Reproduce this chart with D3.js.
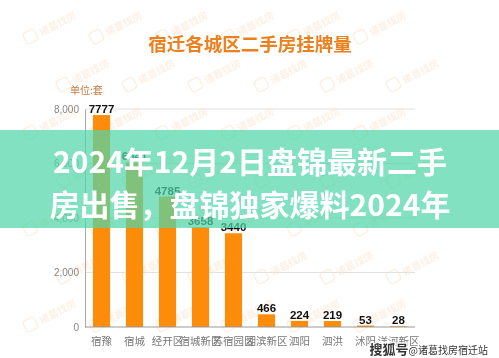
<!DOCTYPE html>
<html>
<head>
<meta charset="utf-8">
<script src="https://cdn.jsdelivr.net/npm/d3@7"></script>
<style>
  body { margin: 0; background: #fff; }
  svg { display: block; font-family: "Noto Sans CJK SC", "Noto Sans", sans-serif; }
</style>
</head>
<body>
<svg id="chart" width="499" height="358"></svg>
<script>
const districts = ["宿豫", "宿城", "经开区", "宿城新区", "苏宿园区", "湖滨新区", "泗阳", "泗洪", "沭阳", "洋河新区"]
const listings = [7777, 6041, 4785, 3658, 3440, 466, 224, 219, 53, 28]
const yTicks = [0, 2000, 4000, 6000, 8000]
const headline = ["2024年12月2日盘锦最新二手", "房出售，盘锦独家爆料2024年"]

const width = 499,
    height = 358
const orange = "rgb(252,140,10)"
const titleOrange = "rgb(236,128,30)"

const svg = d3.select("#chart")

// faint watermark pattern, kept inside the frame
const wm = svg.append("g").attr("opacity", 0.22)
for (let r = 0; r < 7; r++) {
    for (let c = 0; c < 6; c++) {
        const wx = c * 66 + (r % 2) * 33 + 45
        const wy = r * 48 + 30
        if (wx > 460) continue
        const g = wm.append("g").attr("transform", `translate(${wx},${wy}) rotate(-28)`)
        g.append("rect").attr("x", -22).attr("y", -7).attr("width", 12).attr("height", 12).attr("rx", 3)
            .attr("fill", "none").attr("stroke", "rgb(245,190,140)").attr("stroke-width", 1.5)
        g.append("text").attr("x", -6).attr("y", 4).attr("font-size", 10).attr("font-weight", "bold")
            .attr("fill", "rgb(245,190,140)").text("诸葛找房")
    }
}

const x = d3.scaleBand()
    .domain(districts)
    .range([85, 415])
    .paddingInner(0.48)
    .paddingOuter(0.24)

const y = d3.scaleLinear()
    .domain([0, 8000])
    .range([327, 109])

// title
svg.append("text")
    .attr("x", 250)
    .attr("y", 51)
    .attr("text-anchor", "middle")
    .attr("font-size", 18.5)
    .attr("font-weight", "bold")
    .attr("fill", titleOrange)
    .text("宿迁各城区二手房挂牌量")

svg.append("text")
    .attr("x", 70)
    .attr("y", 94)
    .attr("font-size", 10)
    .attr("fill", "rgb(200,120,60)")
    .text("单位:套")

// grid lines
svg.append("g")
    .selectAll("line")
    .data(yTicks.filter(d => d > 0))
    .join("line")
    .attr("x1", 85).attr("x2", 415)
    .attr("y1", d => y(d)).attr("y2", d => y(d))
    .attr("stroke", "#e2e2e2")

const yAxis = svg.append("g")
    .attr("transform", "translate(85,0)")
    .call(d3.axisLeft(y).tickValues(yTicks).tickFormat(d3.format(",")).tickSize(0).tickPadding(6))
yAxis.select(".domain").attr("stroke", "#aaa")
yAxis.selectAll("text").attr("font-size", 10).attr("fill", "#888").attr("font-family", "Liberation Sans, Arial, sans-serif")

// bars
svg.append("g")
    .selectAll("rect")
    .data(districts)
    .join("rect")
    .attr("x", d => x(d))
    .attr("width", x.bandwidth())
    .attr("y", (d, i) => y(listings[i]))
    .attr("height", (d, i) => y(0) - y(listings[i]))
    .attr("fill", orange)

// baseline
svg.append("line")
    .attr("x1", 85).attr("x2", 415)
    .attr("y1", y(0)).attr("y2", y(0))
    .attr("stroke", "#999")

// value labels
svg.append("g")
    .selectAll("text")
    .data(districts)
    .join("text")
    .attr("x", d => x(d) + x.bandwidth() / 2)
    .attr("y", (d, i) => y(listings[i]) - 2)
    .attr("text-anchor", "middle")
    .attr("font-size", 11.5)
    .attr("font-weight", "bold")
    .attr("font-family", "Liberation Sans, Arial, sans-serif")
    .attr("fill", "#111")
    .text((d, i) => listings[i])

// category labels
svg.append("g")
    .selectAll("text")
    .data(districts)
    .join("text")
    .attr("x", d => x(d) + x.bandwidth() / 2)
    .attr("y", 345)
    .attr("text-anchor", "middle")
    .attr("font-size", 10.5)
    .attr("fill", "#777")
    .text(d => d)

// headline overlay band
svg.append("rect")
    .attr("x", 0).attr("y", 130)
    .attr("width", width).attr("height", 98)
    .attr("fill", "rgb(80,214,168)")
    .attr("opacity", 0.72)

svg.append("g")
    .selectAll("text")
    .data(headline)
    .join("text")
    .attr("x", 250)
    .attr("y", (d, i) => 173 + i * 43)
    .attr("text-anchor", "middle")
    .attr("font-size", 30)
    .attr("font-weight", "bold")
    .attr("fill", "#fff")
    .text(d => d)

// source watermark
const src = svg.append("text")
    .attr("x", 488)
    .attr("y", 354)
    .attr("text-anchor", "end")
    .attr("stroke", "#fff")
    .attr("stroke-width", 2.5)
    .attr("paint-order", "stroke")
    .attr("fill", "#333")
src.append("tspan").attr("font-size", 13).attr("font-weight", "bold").text("搜狐号")
src.append("tspan").attr("font-size", 10).text("@诸葛找房宿迁站")
</script>
</body>
</html>
